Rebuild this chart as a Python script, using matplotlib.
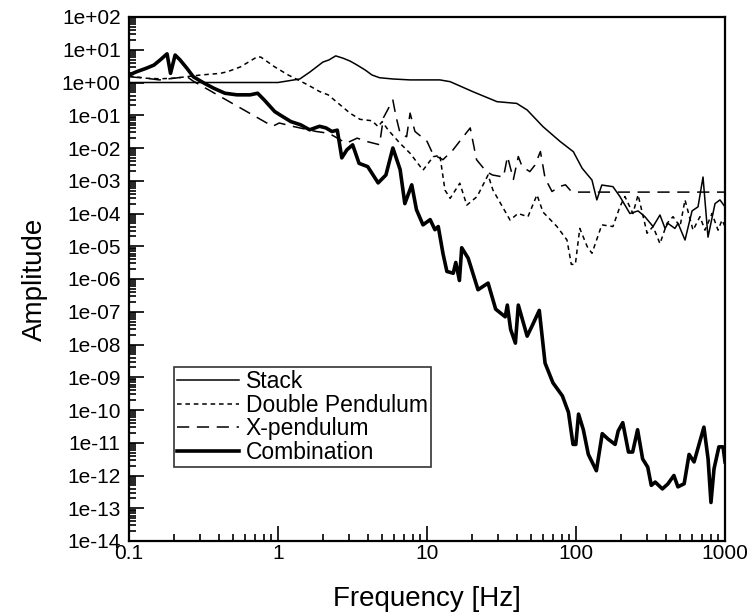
import numpy as np
import matplotlib
matplotlib.use('Agg')
import matplotlib.pyplot as plt
from matplotlib.ticker import LogLocator, FuncFormatter, NullFormatter

plt.rcParams['font.family'] = ['Liberation Sans', 'DejaVu Sans']

# Stack (thin solid)
stack_f = [0.1, 1.0, 1.4, 1.64, 2.0, 2.2, 2.44, 2.74, 3.05, 3.4, 3.85, 4.27, 4.8, 5.9, 7.7,
           12.2, 14.3, 20.4, 29.5, 40, 47, 60, 78, 96, 110, 128, 138, 149, 177, 197,
           230, 261, 290, 329, 366, 396, 414, 461, 484, 539, 601, 659, 712, 769, 857, 925, 1000]
stack_a = [1.0, 1.0, 1.28, 2.1, 4.2, 4.9, 6.5, 5.5, 4.5, 3.4, 2.4, 1.7, 1.4, 1.28, 1.2,
           1.2, 1.06, 0.52, 0.26, 0.23, 0.145, 0.045, 0.016, 7.7e-3, 2.4e-3, 1.05e-3, 2.6e-4, 7.4e-4, 6.6e-4, 3.3e-4,
           1.0e-4, 1.2e-4, 8e-5, 4e-5, 9e-5, 3.5e-5, 5e-5, 3.5e-5, 5e-5, 1.55e-5, 1.2e-4, 1.6e-4, 1.3e-3, 1.9e-5, 2e-4, 2.6e-4, 1.6e-4]

# Double pendulum (short dashes)
dp_f = [0.1, 0.13, 0.16, 0.2, 0.305, 0.41, 0.46, 0.56, 0.73, 0.77, 0.95, 1.17, 1.59, 1.9, 2.17,
        3.05, 3.55, 4.27, 4.7, 5.0, 5.5, 6.6, 7.7, 9.4, 11.0, 12.2, 13.2, 14.3, 16.6, 18.5,
        21.7, 25.7, 27.7, 36.1, 40.8, 47.6, 54.7, 60.1, 74.5, 87, 93, 99, 106, 119, 128,
        149, 177, 197, 213, 241, 261, 300, 329, 366, 408, 448, 499, 539, 610, 679, 734,
        818, 898, 955, 1000]
dp_a = [1.6, 1.35, 1.3, 1.35, 1.7, 1.9, 2.15, 3.0, 6.2, 5.9, 3.0, 1.7, 0.84, 0.53, 0.42,
        0.115, 0.075, 0.068, 0.045, 0.064, 0.035, 0.0138, 6.9e-3, 2.1e-3, 5.4e-3, 6e-3, 5.2e-4, 2.9e-4, 8.4e-4, 1.8e-4,
        3.3e-4, 1.5e-3, 5.2e-4, 6.3e-5, 1.0e-4, 8e-5, 3.7e-4, 1.1e-4, 4e-5, 1.55e-5, 2.8e-6, 2.8e-6, 3.5e-5, 9.7e-6, 6.1e-6,
        4.5e-5, 4e-5, 1.6e-4, 3.3e-4, 1.0e-4, 3.7e-4, 2.5e-5, 4e-5, 1.2e-5, 5e-5, 8e-5, 4e-5, 2.6e-4, 3.1e-5, 8e-5, 3.1e-5,
        1.0e-4, 3.1e-5, 6.3e-5, 4e-5]

# X-pendulum (long dashes)
xp_f = [0.1, 0.13, 0.16, 0.2, 0.245, 0.27, 0.92, 1.02, 1.25, 1.8, 2.2, 2.87, 3.4, 3.9, 4.8,
        5.1, 5.9, 6.2, 6.6, 7.3, 7.7, 8.3, 10, 11, 12.8, 14.9, 17.5, 19.5, 21.5, 25,
        27.5, 32.6, 34.7, 38, 41, 43.5, 49, 53, 57.7, 62, 69, 78.5, 85, 92, 100, 1000]
xp_a = [1.5, 1.35, 1.2, 1.35, 1.5, 1.1, 0.046, 0.058, 0.046, 0.032, 0.028, 0.014, 0.02, 0.016, 0.0126,
        0.084, 0.29, 0.09, 0.028, 0.022, 0.116, 0.032, 0.016, 6.3e-3, 4.4e-3, 8.6e-3, 0.022, 0.041, 4.4e-3, 1.9e-3,
        1.5e-3, 1.3e-3, 5.5e-3, 1.1e-3, 5.5e-3, 2.7e-3, 1.9e-3, 3e-3, 7.8e-3, 1.2e-3, 4.7e-4, 6.8e-4, 7.5e-4, 5e-4, 4.5e-4, 4.5e-4]

# Combination (thick solid)
comb_f = [0.1, 0.113, 0.13, 0.147, 0.162, 0.18, 0.19, 0.204, 0.22, 0.245, 0.27, 0.32, 0.37, 0.44, 0.53,
          0.65, 0.73, 0.81, 0.95, 1.04, 1.22, 1.42, 1.63, 1.9, 2.1, 2.3, 2.5, 2.68, 2.9, 3.17,
          3.5, 4.0, 4.7, 5.3, 5.9, 6.6, 7.1, 7.9, 8.5, 9.4, 10.5, 11.3, 11.9, 12.8, 13.6,
          15.0, 15.6, 16.5, 17.1, 18.9, 22, 25.7, 28.9, 33.5, 34.6, 36.4, 39.2, 41, 47, 50.6,
          56.7, 62, 70, 81, 89, 95.5, 99.7, 104, 112, 121, 137, 150, 164, 183, 192,
          206, 225, 240, 259, 280, 303, 320, 340, 380, 413, 454, 483, 532, 574, 620,
          722, 770, 805, 844, 910, 970, 1000]
comb_a = [1.7, 2.15, 2.7, 3.4, 4.9, 7.5, 1.9, 6.9, 4.9, 2.7, 1.5, 0.95, 0.67, 0.47, 0.42,
          0.42, 0.47, 0.29, 0.13, 0.1, 0.064, 0.051, 0.036, 0.046, 0.041, 0.032, 0.035, 5e-3, 8.8e-3, 0.0125,
          3.4e-3, 2.7e-3, 8.6e-4, 1.5e-3, 0.01, 2.2e-3, 2e-4, 7.5e-4, 1.3e-4, 4.5e-5, 6.5e-5, 3.2e-5, 4e-5, 6e-6, 1.7e-6,
          1.5e-6, 3.2e-6, 9e-7, 9e-6, 4.3e-6, 4.7e-7, 7.5e-7, 1.2e-7, 7e-8, 1.6e-7, 2.9e-8, 1.1e-8, 1.6e-7, 1.8e-8, 3.6e-8,
          1.1e-7, 2.7e-9, 6.8e-10, 2.7e-10, 8.5e-11, 8.9e-12, 8.9e-12, 7.5e-11, 2.5e-11, 4.4e-12, 1.4e-12, 1.9e-11, 1.3e-11, 8.9e-12, 2.3e-11,
          4.1e-11, 5.2e-12, 5.2e-12, 2.5e-11, 3.2e-12, 1.8e-12, 5e-13, 6.3e-13, 3.9e-13, 5.5e-13, 1.0e-12, 4.5e-13, 5.6e-13, 4.4e-12, 2.6e-12,
          3e-11, 3.2e-12, 1.5e-13, 1.6e-12, 7.5e-12, 7.5e-12, 2.6e-12]

x_ticks = [0.1, 1, 10, 100, 1000]
x_labels = ['0.1', '1', '10', '100', '1000']

fig = plt.figure(figsize=(7.54, 6.15), dpi=100)
ax = fig.add_axes([129 / 754, 1 - 541 / 615, 596 / 754, 524 / 615])

ax.plot(stack_f, stack_a, color='black', lw=1.1, label='Stack')
ax.plot(dp_f, dp_a, color='black', lw=1.1, dashes=(3, 2.5), label='Double Pendulum')
ax.plot(xp_f, xp_a, color='black', lw=1.1, dashes=(8, 5), label='X-pendulum')
ax.plot(comb_f, comb_a, color='black', lw=2.6, label='Combination')

ax.set_xscale('log')
ax.set_yscale('log')
ax.set_xlim(0.1, 1000)
ax.set_ylim(1e-14, 1e2)

ax.set_xticks(x_ticks)
ax.set_xticklabels(x_labels)
ax.xaxis.set_minor_locator(LogLocator(base=10, subs=np.arange(2, 10), numticks=20))
ax.xaxis.set_minor_formatter(NullFormatter())
ax.yaxis.set_major_locator(LogLocator(base=10, numticks=20))
ax.yaxis.set_major_formatter(FuncFormatter(lambda v, p: f'{v:.0e}'))
ax.yaxis.set_minor_locator(LogLocator(base=10, subs=np.arange(2, 10), numticks=40))
ax.yaxis.set_minor_formatter(NullFormatter())

ax.tick_params(which='both', direction='in', top=False, right=False, labelsize=15, width=1.2)
ax.tick_params(which='major', length=11)
ax.tick_params(axis='y', which='major', pad=6)
ax.tick_params(axis='x', which='major', pad=2)
ax.tick_params(which='minor', length=5)
for s in ax.spines.values():
    s.set_linewidth(1.6)

ax.set_xlabel('Frequency [Hz]', fontsize=20, labelpad=17)
ax.set_ylabel('Amplitude', fontsize=20, labelpad=10)

leg = ax.legend(loc='lower left', bbox_to_anchor=(0.075, 0.141), borderaxespad=0,
                fontsize=16.5, frameon=True, fancybox=False, handlelength=2.7,
                handletextpad=0.3, labelspacing=0.02, borderpad=0.15)
leg.get_frame().set_edgecolor('black')
leg.get_frame().set_linewidth(1.2)

plt.savefig('out.png', dpi=100)
